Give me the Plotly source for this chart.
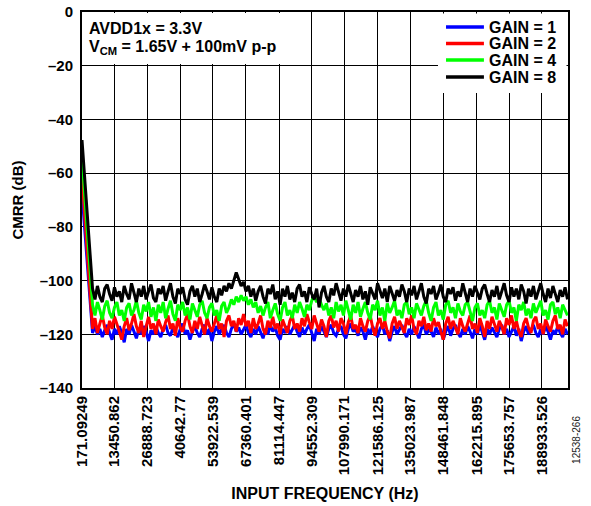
import plotly.graph_objects as go

# ---------------- data ----------------
freq_hz = [171.09249,
    4500, 5500, 6500, 7500, 8500, 9500, 10500, 11500, 12500, 13500, 14500, 15500, 16500, 17500,
    18500, 19500, 20500, 21500, 22500, 23500, 24500, 25500, 26500, 27500, 28500, 29500, 30500, 31500,
    32500, 33500, 34500, 35500, 36500, 37500, 38500, 39500, 40500, 41500, 42500, 43500, 44500, 45500,
    46500, 47500, 48500, 49500, 50500, 51500, 52500, 53500, 54500, 55500, 56500, 57500, 58500, 59500,
    60500, 61500, 62500, 63500, 64500, 65500, 66500, 67500, 68500, 69500, 70500, 71500, 72500, 73500,
    74500, 75500, 76500, 77500, 78500, 79500, 80500, 81500, 82500, 83500, 84500, 85500, 86500, 87500,
    88500, 89500, 90500, 91500, 92500, 93500, 94500, 95500, 96500, 97500, 98500, 99500, 100500, 101500,
    102500, 103500, 104500, 105500, 106500, 107500, 108500, 109500, 110500, 111500, 112500, 113500, 114500, 115500,
    116500, 117500, 118500, 119500, 120500, 121500, 122500, 123500, 124500, 125500, 126500, 127500, 128500, 129500,
    130500, 131500, 132500, 133500, 134500, 135500, 136500, 137500, 138500, 139500, 140500, 141500, 142500, 143500,
    144500, 145500, 146500, 147500, 148500, 149500, 150500, 151500, 152500, 153500, 154500, 155500, 156500, 157500,
    158500, 159500, 160500, 161500, 162500, 163500, 164500, 165500, 166500, 167500, 168500, 169500, 170500, 171500,
    172500, 173500, 174500, 175500, 176500, 177500, 178500, 179500, 180500, 181500, 182500, 183500, 184500, 185500,
    186500, 187500, 188500, 189500, 190500, 191500, 192500, 193500, 194500, 195500, 196500, 197500, 198500, 199500]

cmrr_gain1 = [-67.4,
    -119.5, -117, -120, -118, -121, -118.5, -116.5, -119.5, -122, -118, -120, -117, -119.5, -123,
    -118, -120, -116.5, -119, -121.5, -118, -120, -117, -119, -122.5, -118.5, -120, -117, -119.5,
    -121, -118, -116.5, -119.5, -120.5, -117.5, -119, -121, -118, -116, -120, -118.5, -122, -119,
    -117, -119.5, -121, -118, -116.5, -120, -118, -122.5, -119, -117, -120, -118.5, -116.5, -119.5,
    -121, -118, -116, -119, -117.5, -120, -118, -116.5, -119.5, -121, -118, -120, -117, -119,
    -121.5, -118, -120, -116.5, -119, -117.5, -120.5, -122, -118, -119.5, -117, -120, -118.5, -116.5,
    -119, -121, -117.5, -120, -118, -116.5, -119.5, -122.5, -118, -120, -117, -119, -121, -118,
    -116.5, -119.5, -120.5, -118, -117, -120, -121.5, -118, -116, -119, -118, -120.5, -117.5, -119,
    -122, -118, -120, -117, -119.5, -121, -118, -116.5, -120, -118.5, -122.5, -119, -117, -120,
    -118, -116.5, -119.5, -121, -118, -120, -117, -119, -121.5, -118, -116.5, -120, -118.5, -119,
    -121, -117.5, -120, -118, -122, -119, -117, -120.5, -118, -116.5, -119.5, -121, -118, -120,
    -117, -119, -121.5, -118, -120, -116.5, -119, -122, -118, -120, -117.5, -119.5, -121, -118,
    -116.5, -120, -118, -121, -119, -117, -120.5, -118, -122.5, -119, -117, -120, -118.5, -116.5,
    -119.5, -121, -118, -120, -117, -119, -122, -118.5, -120, -117, -119.5, -121, -118, -120]

cmrr_gain2 = [-61.0,
    -118, -114, -119.5, -116, -113, -117.5, -120, -115, -118, -113.5, -116, -119, -122, -117,
    -114, -118.5, -116, -112.5, -117, -119.5, -115, -121, -117, -113.5, -118, -116, -120, -114.5,
    -117, -119, -115.5, -113, -118, -116, -120.5, -114, -117.5, -119, -115, -112.5, -117, -119.5,
    -115, -118, -113.5, -116.5, -120, -114, -117, -119, -115.5, -113, -118, -116, -121, -115,
    -113, -117, -115, -119, -114, -116.5, -112.5, -117, -115, -119.5, -114, -118, -116, -113,
    -118, -120, -115, -117.5, -113.5, -118, -116, -120, -114.5, -117, -119.5, -115, -113, -118,
    -116, -119, -114, -117, -112.5, -115.5, -118, -113, -116, -119, -114.5, -117, -121, -115,
    -113, -117.5, -115, -119, -114, -116, -120, -115.5, -113, -118, -116.5, -119.5, -114, -117,
    -119, -115, -113, -117.5, -120.5, -116, -114, -118, -115, -119, -121.5, -116, -113.5, -118,
    -115, -117, -119.5, -114, -116.5, -113, -118, -120, -115, -117, -113.5, -118.5, -116, -119,
    -114, -117, -115.5, -119, -122, -116, -113.5, -118, -115, -117.5, -120, -114, -117, -119,
    -115.5, -113, -118, -116, -119.5, -114, -117, -121, -115, -118, -113.5, -116.5, -119, -115,
    -117, -120, -114, -116.5, -113, -118, -115, -119, -121, -116, -114, -117.5, -119.5, -115,
    -113.5, -118, -116, -120, -114.5, -117, -119, -115, -113, -118, -116.5, -120, -114.5, -117]

cmrr_gain4 = [-54.0,
    -109, -113, -108, -111, -114.5, -109.5, -107.5, -112, -114, -110, -108, -113, -111, -115,
    -110, -108.5, -113, -111, -107.5, -112, -114.5, -109, -111.5, -108, -113.5, -110, -115, -109,
    -112, -108, -114, -110.5, -107.5, -112.5, -115, -109, -111, -108, -113, -110, -114.5, -108.5,
    -111, -113.5, -109, -107.5, -112, -114, -110, -108.5, -113, -111, -115, -109.5, -108, -112,
    -110, -107, -109, -106, -108, -105.5, -107.5, -106, -109, -107, -110, -108, -112, -109.5,
    -113, -110, -108, -114, -111, -108.5, -112.5, -115, -110, -108, -113, -111, -114, -109,
    -112, -108, -110.5, -113.5, -109, -111, -107.5, -106, -108, -106.5, -109, -111, -108.5, -113,
    -110, -114, -108, -111.5, -109, -113, -107.5, -111, -114.5, -109, -112, -108, -113.5, -110.5,
    -108, -112, -114.5, -109, -111, -107.5, -113, -110, -115, -108.5, -112, -110, -107.5, -113,
    -111, -114, -109, -108, -112.5, -110, -114, -108.5, -111, -113, -109.5, -107.5, -112, -115,
    -110, -108, -113, -111, -114.5, -109, -107.5, -112, -110, -114, -108.5, -111.5, -113, -109,
    -108, -112, -115, -110, -108.5, -113, -111, -114, -109, -107.5, -112, -110, -114.5, -108.5,
    -111, -113.5, -109, -107.5, -112, -110, -115, -109, -111, -108, -113, -110.5, -114, -108.5,
    -112, -110, -107.5, -113, -111, -114.5, -109, -108, -112.5, -110, -114, -109, -111, -113]

cmrr_gain8 = [-47.7,
    -103, -107, -102, -106, -108, -103, -101.5, -105, -107.5, -102.5, -106, -104, -108, -102,
    -105, -107, -101, -104.5, -108, -103, -106, -102, -107, -104, -101.5, -106.5, -108, -103,
    -105, -102, -107.5, -104, -101, -106, -108.5, -103, -105, -102.5, -107, -109, -104, -102,
    -106, -103, -108, -105, -101.5, -104, -107, -102.5, -106, -108, -103, -105.5, -102, -104,
    -101, -103, -100, -97, -99.5, -102, -100.5, -104, -102, -106, -103, -107.5, -104, -102,
    -106, -108.5, -103, -105, -101.5, -107, -104, -109, -103, -106, -102, -107, -104.5, -108,
    -103, -101.5, -106, -104, -108, -102.5, -105, -107, -103, -110, -104.5, -102, -106, -108,
    -103, -105.5, -101, -104, -107.5, -103, -106, -101.5, -105, -108, -103.5, -106, -102, -107,
    -104, -109, -102.5, -105, -107, -101, -104, -106.5, -103, -108, -102, -105, -107.5, -103.5,
    -106, -101.5, -104, -108, -103, -105.5, -102, -107, -104, -101, -106, -108.5, -103, -105,
    -102, -107, -104.5, -101.5, -106, -108, -103, -105, -102.5, -107.5, -104, -106, -101, -105,
    -108, -103, -106, -102, -104.5, -107, -103, -101.5, -105, -108, -103.5, -106, -102, -107,
    -104, -101, -105.5, -108, -102.5, -106, -103, -107, -101.5, -104, -108.5, -103, -106, -102,
    -107, -104, -101, -105, -108, -103, -106.5, -102, -105, -108, -103.5, -106, -102.5, -107]

series_names = ["GAIN = 1", "GAIN = 2", "GAIN = 4", "GAIN = 8"]
series_values = [cmrr_gain1, cmrr_gain2, cmrr_gain4, cmrr_gain8]
series_colors = ["#0000FF", "#FF0000", "#00FF00", "#000000"]

x_tick_values = [171.09249, 13450.862, 26888.723, 40642.77, 53922.539, 67360.401,
                 81114.447, 94552.309, 107990.171, 121586.125, 135023.987,
                 148461.848, 162215.895, 175653.757, 188933.526]
x_tick_labels = ["171.09249", "13450.862", "26888.723", "40642.77", "53922.539",
                 "67360.401", "81114.447", "94552.309", "107990.171", "121586.125",
                 "135023.987", "148461.848", "162215.895", "175653.757", "188933.526"]
y_tick_values = [0, -20, -40, -60, -80, -100, -120, -140]

FONT = "Liberation Sans, Arial, sans-serif"

fig = go.Figure()
for name, vals, col in zip(series_names, series_values, series_colors):
    fig.add_trace(go.Scatter(x=freq_hz, y=vals, mode="lines", name=name,
                             line=dict(color=col, width=3), showlegend=False))

# white box behind the text block (covers gridlines)
fig.add_shape(type="rect", xref="paper", yref="y", x0=0.004, x1=0.428, y0=-19.4, y1=-0.4,
              fillcolor="white", line=dict(width=0), layer="above")
# legend box (top-right, white, covering the gridlines)
fig.add_shape(type="rect", xref="paper", yref="paper", x0=0.7325, x1=0.9969, y0=0.7846, y1=0.996,
              fillcolor="white", line=dict(width=0), layer="above")
legend_rows = [0.9601, 0.9162, 0.8723, 0.8271]
for name, col, yrow in zip(series_names, series_colors, legend_rows):
    fig.add_shape(type="line", xref="paper", yref="paper", x0=0.749, x1=0.827, y0=yrow, y1=yrow,
                  line=dict(color=col, width=3.5), layer="above")
    fig.add_annotation(xref="paper", yref="paper", x=0.8334, y=yrow, xanchor="left", yanchor="middle",
                       text="<b>%s</b>" % name, showarrow=False,
                       font=dict(family=FONT, size=16, color="black"))

fig.add_annotation(xref="paper", yref="paper", x=0.0105, y=0.9548, xanchor="left", yanchor="middle",
                   text="<b>AVDD1x = 3.3V</b>", showarrow=False,
                   font=dict(family=FONT, size=16, color="black"))
fig.add_annotation(xref="paper", yref="paper", x=0.0105, y=0.9045, xanchor="left", yanchor="middle",
                   text="<b>V<sub>CM</sub> = 1.65V + 100mV p-p</b>", showarrow=False,
                   font=dict(family=FONT, size=16, color="black"))
fig.add_annotation(xref="paper", yref="paper", x=1.0185, y=-0.138, xanchor="center", yanchor="middle",
                   text="12538-266", textangle=-90, showarrow=False,
                   font=dict(family=FONT, size=10, color="#222"))

fig.update_layout(
    width=591, height=506,
    margin=dict(l=82, r=23, t=12, b=118, autoexpand=False),
    paper_bgcolor="white", plot_bgcolor="white",
    font=dict(family=FONT, size=15, color="black"),
    showlegend=False,
    xaxis=dict(range=[171.09249, 199700], tickmode="array", tickvals=x_tick_values,
               ticktext=["<b>%s</b>" % t for t in x_tick_labels], tickangle=-90,
               showgrid=True, gridcolor="#000000", gridwidth=1.2,
               showline=True, linecolor="black", linewidth=2, mirror=True,
               ticks="", zeroline=False, automargin=False,
               tickfont=dict(family=FONT, size=15, color="black"),
               title=dict(text="<b>INPUT FREQUENCY (Hz)</b>", standoff=14,
                          font=dict(family=FONT, size=16, color="black"))),
    yaxis=dict(range=[-140, 0], tickmode="array", tickvals=y_tick_values,
               ticktext=["<b>%s</b>" % ("0" if v == 0 else "\u2013%d" % (-v)) for v in y_tick_values],
               showgrid=True, gridcolor="#000000", gridwidth=1.2,
               showline=True, linecolor="black", linewidth=2, mirror=True,
               ticks="", zeroline=False, ticklabelstandoff=4, automargin=False,
               tickfont=dict(family=FONT, size=15, color="black"),
               title=dict(text="<b>CMRR (dB)</b>", standoff=12,
                          font=dict(family=FONT, size=15, color="black"))),
)

fig.write_html("out.html", config={"displayModeBar": False},
               post_script="document.body.style.margin='0px';")
